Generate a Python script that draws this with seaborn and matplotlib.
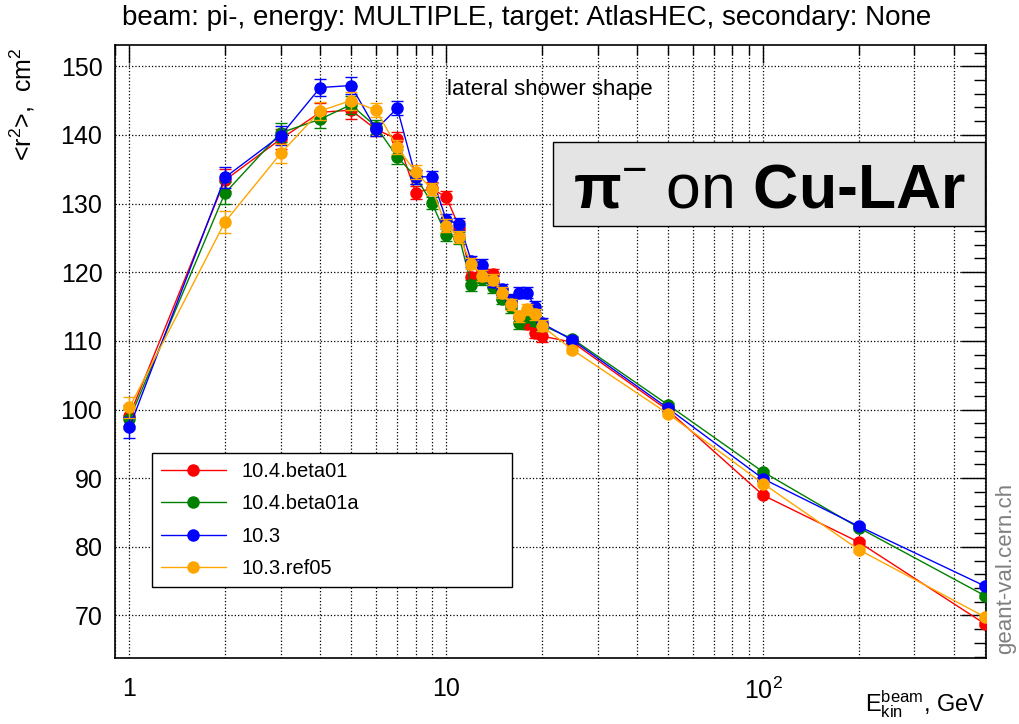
import numpy as np
import pandas as pd
import matplotlib
matplotlib.use("Agg")
import matplotlib.pyplot as plt
from matplotlib.lines import Line2D
from matplotlib.patches import Rectangle
from matplotlib.ticker import FixedLocator, FixedFormatter, LogLocator, MultipleLocator, NullFormatter
import seaborn as sns

# Beam kinetic energies (GeV)
energy = [1, 2, 3, 4, 5, 6, 7, 8, 9, 10, 11, 12, 13, 14, 15, 16, 17, 18, 19, 20,
          25, 50, 100, 200, 500]

# <r^2> (cm^2) for each Geant4 version
r2_104beta01 = [99.1, 133.4, 139.4, 143.3, 143.6, 140.8, 139.4, 131.6, 132.2, 130.9,
                126.5, 119.3, 120.3, 119.7, 116.8, 115.5, 113.5, 112.5, 111.2, 110.7,
                109.8, 99.9, 87.5, 80.7, 68.8]
r2_104beta01a = [98.6, 131.5, 140.3, 142.3, 144.4, 141.2, 136.8, 133.9, 130.1, 125.4,
                 125.0, 118.1, 119.0, 117.8, 116.1, 114.9, 112.6, 113.5, 112.9, 112.3,
                 110.3, 100.7, 90.9, 82.8, 72.9]
r2_103 = [97.4, 133.8, 139.9, 146.9, 147.2, 140.8, 143.9, 133.9, 133.9, 127.6,
          127.0, 121.6, 121.1, 118.6, 117.5, 116.0, 117.0, 117.0, 115.0, 112.6,
          110.1, 100.2, 89.9, 83.0, 74.3]
r2_103ref05 = [100.3, 127.3, 137.3, 143.5, 145.0, 143.6, 138.2, 134.6, 132.1, 126.8,
               125.1, 121.2, 119.5, 118.9, 117.0, 115.3, 113.6, 114.6, 113.9, 112.2,
               108.7, 99.4, 89.2, 79.6, 69.8]

# Statistical uncertainty per energy point
r2_err = [1.5, 1.6, 1.4, 1.3, 1.3, 1.0, 1.0, 1.0, 0.9, 0.9,
          0.9, 0.8, 0.8, 0.8, 0.8, 0.8, 0.8, 0.8, 0.8, 0.8,
          0.4, 0.3, 0.3, 0.3, 0.3]

versions = ["10.4.beta01", "10.4.beta01a", "10.3", "10.3.ref05"]
series = [r2_104beta01, r2_104beta01a, r2_103, r2_103ref05]
colors = ["#ff0000", "#008000", "#0000ff", "#ffa500"]

frames = []
for name, vals in zip(versions, series):
    frames.append(pd.DataFrame({"energy": energy, "r2": vals, "err": r2_err, "version": name}))
df = pd.concat(frames, ignore_index=True)

sns.set_style("white")
plt.rcParams["font.family"] = ["Liberation Sans", "DejaVu Sans"]
plt.rcParams["mathtext.fontset"] = "custom"
plt.rcParams["mathtext.rm"] = "Liberation Sans"
plt.rcParams["mathtext.it"] = "Liberation Sans:italic"
plt.rcParams["mathtext.bf"] = "Liberation Sans:bold"
for key in ["text.color", "axes.labelcolor", "xtick.color", "ytick.color"]:
    plt.rcParams[key] = "black"

W, H = 1019, 724
fig = plt.figure(figsize=(W / 100, H / 100), dpi=100)
L, R, T, B = 115, 986, 45, 658
ax = fig.add_axes([L / W, 1 - B / H, (R - L) / W, (B - T) / H])

for i, (name, col) in enumerate(zip(versions, colors)):
    sub = df[df["version"] == name]
    ax.errorbar(sub["energy"], sub["r2"], yerr=sub["err"], fmt="none",
                ecolor=col, elinewidth=1.0, capsize=4, capthick=1.0, zorder=3 + i)
    sns.lineplot(data=sub, x="energy", y="r2", color=col, marker="o",
                 markersize=9, markeredgewidth=0, linewidth=1.0,
                 ax=ax, zorder=3 + i, legend=False)

ax.set_xscale("log")
ax.set_xlim(0.9, 505)
ax.set_ylim(63.8, 153.1)

# axes ticks
ax.xaxis.set_major_locator(FixedLocator([1, 10, 100]))
ax.xaxis.set_major_formatter(FixedFormatter(["1", "10", r"$10^{2}$"]))
ax.xaxis.set_minor_locator(LogLocator(base=10, subs=np.arange(2, 10)))
ax.xaxis.set_minor_formatter(NullFormatter())
ax.yaxis.set_major_locator(MultipleLocator(10))
ax.yaxis.set_minor_locator(MultipleLocator(2))

ax.tick_params(which="both", direction="in", top=True, right=True,
               color="black", labelcolor="black", width=1.0, labelsize=18)
ax.tick_params(axis="y", which="major", length=18, pad=9)
ax.tick_params(axis="y", which="minor", length=9)
ax.tick_params(axis="x", which="major", length=13, pad=14)
ax.tick_params(axis="x", which="minor", length=7)

ax.grid(True, axis="x", which="both", linestyle=":", color="black", linewidth=0.9)
ax.grid(True, axis="y", which="major", linestyle=":", color="black", linewidth=0.9)
ax.set_axisbelow(True)
for sp in ax.spines.values():
    sp.set_color("black")
    sp.set_linewidth(1.2)

ax.set_xlabel("")
ax.set_ylabel("")
fig.text(22 / W, 1 - 48 / H, r"<r$^{2}$>,  cm$^{2}$", rotation=90,
         ha="center", va="top", fontsize=18)
fig.text(985 / W, 1 - 711 / H, r"E$_{\mathrm{kin}}^{\mathrm{beam}}$, GeV",
         ha="right", va="baseline", fontsize=17)

fig.text(527 / W, 1 - 18 / H,
         "beam: pi-, energy: MULTIPLE, target: AtlasHEC, secondary: None",
         ha="center", va="center", fontsize=20)

ax.text((447 - L) / (R - L), 1 - (90 - T) / (B - T), "lateral shower shape",
        transform=ax.transAxes, ha="left", va="center", fontsize=16)

# label box
bx0, bx1, by0, by1 = 553, 985, 142, 226
ax.add_patch(Rectangle(((bx0 - L) / (R - L), 1 - (by1 - T) / (B - T)),
                       (bx1 - bx0) / (R - L), (by1 - by0) / (B - T),
                       transform=ax.transAxes, facecolor="#e4e4e4",
                       edgecolor="black", linewidth=1.0, zorder=10, clip_on=False))
ax.text(((573 + 965) / 2 - L) / (R - L), 1 - (207 - T) / (B - T),
        r"$\mathbf{\pi}^{-}$ $\mathrm{on}$ Cu-LAr",
        transform=ax.transAxes, ha="center", va="baseline",
        fontsize=45, fontweight="bold", zorder=11)

fig.text(1006 / W, 1 - 568 / H, "geant-val.cern.ch", rotation=90,
         ha="center", va="center", fontsize=16, color="#808080")

handles = [Line2D([], [], color=c, marker="o", markersize=9, markeredgewidth=0,
                  linewidth=1.0) for c in colors]
leg = ax.legend(handles, versions, loc="upper left",
                bbox_to_anchor=((152 - L) / (R - L), 1 - (453 - T) / (B - T),
                                (512 - 152) / (R - L), 0),
                mode="expand", fontsize=14.5, frameon=True, fancybox=False,
                edgecolor="black", framealpha=1, handlelength=3.2,
                labelspacing=0.66, borderpad=0.45, handletextpad=0.8,
                borderaxespad=0)
leg.get_frame().set_linewidth(1.0)
for t in leg.get_texts():
    t.set_color("black")
leg.set_zorder(12)

fig.savefig("out.png", dpi=100)
